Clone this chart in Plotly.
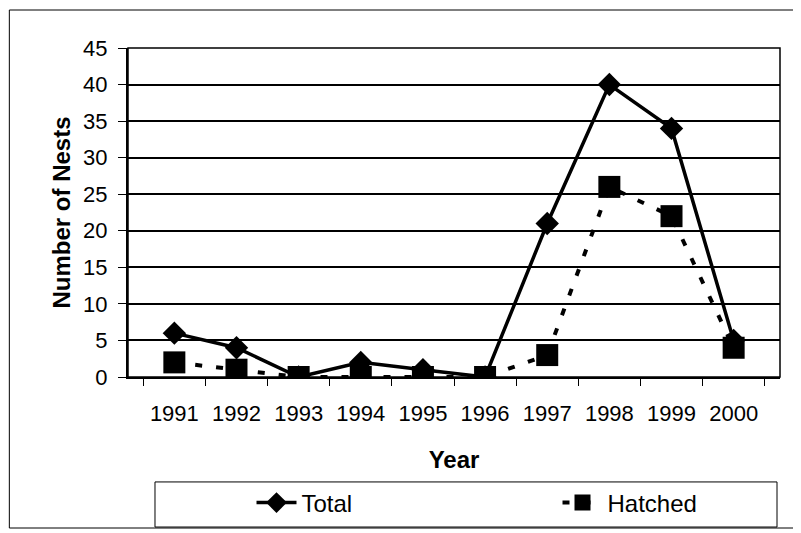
import plotly.graph_objects as go

years = ["1991", "1992", "1993", "1994", "1995", "1996", "1997", "1998", "1999", "2000"]
total = [6, 4, 0, 2, 1, 0, 21, 40, 34, 5]
hatched = [2, 1, 0, 0, 0, 0, 3, 26, 22, 4]
y_ticks = [0, 5, 10, 15, 20, 25, 30, 35, 40, 45]

font = dict(family="Liberation Sans, Arial, sans-serif", color="black")

fig = go.Figure()

fig.add_trace(
    go.Scatter(
        name="Total",
        x=years,
        y=total,
        mode="lines+markers",
        line=dict(color="black", width=3.5),
        marker=dict(symbol="diamond", size=18, color="black"),
    )
)
fig.add_trace(
    go.Scatter(
        name="Hatched",
        x=years,
        y=hatched,
        mode="lines+markers",
        line=dict(color="black", width=4, dash="7px,14px"),
        marker=dict(symbol="square", size=22, color="black"),
    )
)

# plot area border, outer chart frame and legend box
fig.add_shape(
    type="rect", xref="paper", yref="paper", x0=0, y0=0, x1=1, y1=1,
    line=dict(color="black", width=1.5),
)
fig.add_shape(
    type="rect", xref="paper", yref="paper", x0=-0.182, y0=-0.459, x1=1.0245, y1=1.1155,
    line=dict(color="black", width=1),
)
fig.add_shape(
    type="rect", xref="paper", yref="paper", x0=0.0414, y0=-0.456, x1=0.9954, y1=-0.319,
    line=dict(color="black", width=1),
)

fig.update_xaxes(
    type="category",
    automargin=False,
    ticks="outside",
    tickson="boundaries",
    ticklen=7,
    tickcolor="black",
    ticklabelstandoff=16,
    showgrid=False,
    showline=True,
    linecolor="black",
    linewidth=2,
    tickfont=dict(size=22, **font),
    title=dict(text="<b>Year</b>", font=dict(size=24, **font), standoff=26),
)
fig.update_yaxes(
    range=[0, 45],
    automargin=False,
    tickvals=y_ticks,
    ticks="outside",
    ticklen=8,
    tickcolor="black",
    ticklabelstandoff=6,
    showgrid=True,
    gridcolor="black",
    gridwidth=1.5,
    zeroline=False,
    showline=True,
    linecolor="black",
    linewidth=2,
    tickfont=dict(size=22, **font),
    title=dict(text="<b>Number of Nests</b>", font=dict(size=24, **font), standoff=6),
)

fig.update_layout(
    width=801,
    height=533,
    margin=dict(l=120, r=29, t=40, b=164),
    plot_bgcolor="white",
    paper_bgcolor="white",
    font=font,
    showlegend=True,
    legend=dict(
        orientation="h",
        xref="container",
        yref="container",
        x=0.304,
        xanchor="left",
        y=0.0713,
        yanchor="middle",
        borderwidth=0,
        bgcolor="rgba(0,0,0,0)",
        entrywidth=251,
        entrywidthmode="pixels",
        itemwidth=40,
        font=dict(size=24, **font),
    ),
)

fig.write_html("out.html")
